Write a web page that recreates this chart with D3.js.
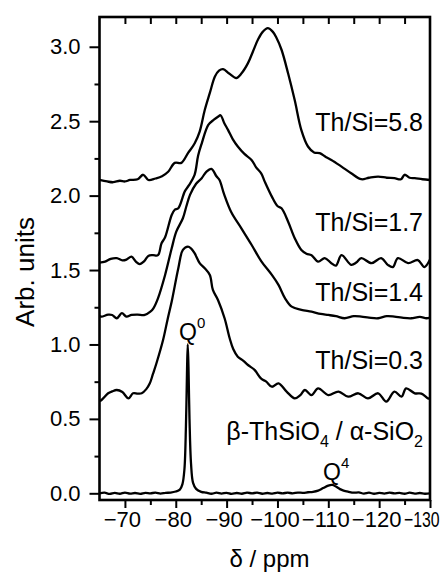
<!DOCTYPE html>
<html>
<head>
<meta charset="utf-8">
<script src="https://cdn.jsdelivr.net/npm/d3@7"></script>
<style>
  html, body { margin: 0; padding: 0; background: #fff; }
  svg { display: block; font-family: "Liberation Sans", Arial, Helvetica, sans-serif; }
</style>
</head>
<body>
<svg id="chart" width="441" height="575"></svg>
<script>
// ---- data (δ in ppm, intensity in arb. units) ----
const xTicks = [-70, -80, -90, -100, -110, -120, -130];
const yTicks = [0.0, 0.5, 1.0, 1.5, 2.0, 2.5, 3.0];

const seriesNames = ["Th/Si=5.8", "Th/Si=1.7", "Th/Si=1.4", "Th/Si=0.3", "β-ThSiO4 / α-SiO2"];

const s58 = [[-65,2.105],[-66.5,2.095],[-67.7,2.09],[-69,2.10],[-70,2.095],[-71,2.105],[-72.5,2.11],[-73.6,2.14],[-74.6,2.105],[-76,2.115],[-77.3,2.13],[-78.5,2.16],[-79.8,2.22],[-81.1,2.22],[-82.4,2.285],[-83.7,2.35],[-84.7,2.43],[-85.7,2.575],[-86.7,2.69],[-87.7,2.80],[-88.5,2.84],[-89.3,2.85],[-90.5,2.82],[-91.9,2.79],[-92.9,2.82],[-94.2,2.89],[-95.2,2.97],[-96.2,3.05],[-97.1,3.10],[-98.1,3.125],[-99.1,3.10],[-99.8,3.06],[-100.8,2.98],[-102.1,2.82],[-103.4,2.64],[-104.7,2.44],[-106.0,2.33],[-107.2,2.29],[-108.3,2.285],[-109.5,2.26],[-110.6,2.24],[-112.6,2.195],[-114.5,2.15],[-116.5,2.11],[-118,2.12],[-119.8,2.128],[-121.5,2.12],[-123.0,2.117],[-124.3,2.11],[-125.0,2.14],[-126,2.12],[-127,2.117],[-128.5,2.11],[-130,2.105]];

const s17 = [[-65,1.55],[-66.1,1.556],[-67.2,1.575],[-68.4,1.58],[-69.5,1.565],[-70.3,1.57],[-71.3,1.59],[-72.2,1.555],[-72.9,1.54],[-73.8,1.56],[-74.6,1.595],[-75.5,1.60],[-76.5,1.60],[-77.2,1.68],[-77.9,1.72],[-79.2,1.87],[-79.8,1.905],[-80.5,1.915],[-81.8,2.03],[-82.6,2.07],[-83.7,2.14],[-84.4,2.27],[-85.1,2.35],[-86.4,2.475],[-87.5,2.51],[-88.3,2.53],[-88.8,2.54],[-89.5,2.49],[-90.3,2.44],[-91.2,2.38],[-92.2,2.33],[-93.5,2.28],[-94.9,2.24],[-95.8,2.19],[-96.8,2.15],[-97.5,2.094],[-98.9,1.993],[-100.0,1.93],[-100.8,1.915],[-102.1,1.825],[-103.4,1.714],[-104.7,1.635],[-105.7,1.61],[-106.7,1.60],[-108.0,1.556],[-109.3,1.58],[-110.6,1.546],[-111.5,1.53],[-112.6,1.60],[-114.5,1.535],[-115.5,1.55],[-116.5,1.58],[-118.5,1.546],[-120.4,1.58],[-121.7,1.535],[-122.7,1.52],[-123.7,1.58],[-125.7,1.546],[-127.6,1.567],[-128.9,1.52],[-130,1.57]];

const s14 = [[-65,1.19],[-65.4,1.187],[-66.7,1.20],[-67.5,1.198],[-68.4,1.176],[-69.4,1.21],[-70.3,1.187],[-71.3,1.198],[-72.5,1.20],[-73.9,1.198],[-75.0,1.22],[-75.6,1.243],[-76.5,1.31],[-77.9,1.467],[-79.2,1.646],[-80.1,1.758],[-81.4,1.848],[-82.1,1.93],[-82.8,2.005],[-84.0,2.08],[-85.1,2.117],[-86.0,2.16],[-87.0,2.18],[-88.0,2.13],[-88.6,2.105],[-89.5,2.01],[-90.9,1.89],[-92.9,1.78],[-94.9,1.67],[-96.8,1.56],[-98.9,1.467],[-100.2,1.40],[-101.5,1.31],[-102.8,1.254],[-104.7,1.232],[-106.7,1.22],[-108.5,1.205],[-110.0,1.198],[-111.5,1.19],[-113.2,1.176],[-115,1.19],[-116.5,1.187],[-118,1.18],[-119.8,1.176],[-121.5,1.19],[-123.0,1.187],[-124.5,1.18],[-126.3,1.176],[-128,1.185],[-129.3,1.176],[-130,1.18]];

const s03 = [[-65,0.62],[-65.4,0.627],[-66.7,0.672],[-67.5,0.685],[-68.4,0.694],[-69.5,0.68],[-70.7,0.638],[-71.6,0.672],[-72.5,0.67],[-73.3,0.672],[-74.2,0.70],[-74.9,0.739],[-75.5,0.80],[-76.2,0.874],[-77.5,1.03],[-78.4,1.17],[-79.2,1.288],[-80.5,1.512],[-81.4,1.635],[-82.4,1.657],[-83.0,1.645],[-83.7,1.613],[-84.7,1.546],[-85.7,1.512],[-86.7,1.467],[-87.3,1.366],[-88.3,1.299],[-89.6,1.176],[-90.6,1.042],[-91.3,0.97],[-92.2,0.918],[-93.3,0.89],[-94.2,0.862],[-95.5,0.829],[-96.8,0.77],[-97.8,0.75],[-98.9,0.716],[-100.2,0.739],[-101.8,0.683],[-103.4,0.638],[-104.5,0.66],[-105.4,0.694],[-106.7,0.66],[-108.0,0.705],[-110,0.66],[-112,0.683],[-113.9,0.649],[-115.9,0.672],[-117.8,0.638],[-119.8,0.672],[-121.4,0.616],[-123,0.683],[-124.4,0.649],[-125.3,0.705],[-127,0.672],[-128.3,0.67],[-129.6,0.638],[-130,0.635]];

const sRef = [[-65,0.0],[-66,0.004],[-67,-0.004],[-68,0.003],[-69,-0.003],[-70,0.005],[-71,-0.002],[-72,0.002],[-73,-0.004],[-74,0.003],[-75,0.0],[-76,0.004],[-77,-0.002],[-78,0.003],[-79,0.005],[-80,0.012],[-80.8,0.025],[-81.3,0.06],[-81.7,0.16],[-82.0,0.45],[-82.2,0.8],[-82.35,1.0],[-82.5,0.85],[-82.7,0.5],[-83.0,0.2],[-83.4,0.07],[-84,0.03],[-85,0.01],[-86,0.004],[-87,-0.003],[-88,0.004],[-89,-0.002],[-90,0.003],[-91,-0.004],[-92,0.002],[-93,-0.003],[-94,0.004],[-95,0.0],[-96,0.004],[-97,-0.003],[-98,0.002],[-99,-0.002],[-100,0.004],[-101,0.0],[-102,0.004],[-103,0.0],[-104,0.005],[-105,0.003],[-106,0.007],[-107,0.01],[-108,0.018],[-109,0.035],[-110,0.052],[-110.8,0.056],[-111.5,0.045],[-112.3,0.028],[-113,0.018],[-114,0.01],[-115,0.004],[-116,0.006],[-117,-0.002],[-118,0.004],[-119,-0.003],[-120,0.003],[-121,-0.002],[-122,0.004],[-123,0.0],[-124,0.003],[-125,-0.003],[-126,0.004],[-127,-0.002],[-128,0.002],[-129,-0.003],[-130,0.0]];

const allSeries = [s58, s17, s14, s03, sRef];

// ---- layout ----
const svg = d3.select("#chart");
const L = 99.5, R = 430, T = 17, B = 500;
const x = d3.scaleLinear().domain([-65, -130]).range([L, R]);
const y = d3.scaleLinear().domain([-0.045, 3.2]).range([B, T]);

const line = d3.line()
  .x(d => x(d[0]))
  .y(d => y(d[1]))
  .curve(d3.curveCatmullRom.alpha(0.5));

// curves
svg.append("g")
  .selectAll("path")
  .data(allSeries)
  .join("path")
  .attr("d", line)
  .attr("fill", "none")
  .attr("stroke", "#000")
  .attr("stroke-width", 2.3)
  .attr("stroke-linejoin", "round");

// axes
const fmtY = d3.format(".1f");
const yAxis = d3.axisLeft(y).tickValues(yTicks).tickFormat(fmtY).tickSize(10).tickPadding(9);
const yMinor = d3.axisLeft(y).tickValues(d3.range(0.25, 3.2, 0.5)).tickFormat("").tickSize(5);
const xAxis = d3.axisBottom(x).tickValues(xTicks).tickFormat(d => "\u2212" + Math.abs(d)).tickSize(8).tickPadding(3);
const xMinor = d3.axisBottom(x).tickValues(d3.range(-75, -126, -10)).tickFormat("").tickSize(5);
const xTop = d3.axisBottom(x).tickValues(d3.range(-70, -126, -5)).tickFormat("").tickSize(7);

function styleAxis(g, fs) {
  g.select(".domain").remove();
  g.selectAll(".tick line").attr("stroke", "#000").attr("stroke-width", 2);
  g.selectAll(".tick text").attr("fill", "#000").style("font-size", fs + "px")
    .style("font-family", '"Liberation Sans", Arial, sans-serif');
}

svg.append("g").attr("transform", `translate(${L},0)`).call(yAxis).call(g => styleAxis(g, 22));
svg.append("g").attr("transform", `translate(${L},0)`).call(yMinor).call(g => styleAxis(g, 22));
const gx = svg.append("g").attr("transform", `translate(0,${B})`).call(xAxis).call(g => styleAxis(g, 22));
svg.append("g").attr("transform", `translate(0,${B})`).call(xMinor).call(g => styleAxis(g, 22));
svg.append("g").attr("transform", `translate(0,${T})`).call(xTop).call(g => styleAxis(g, 22));
// labels sit slightly left of their ticks; the last one is narrowed so it stays inside the picture
gx.selectAll(".tick text").attr("x", -3);
gx.selectAll(".tick text").filter(d => d === -130)
  .attr("text-anchor", "start")
  .attr("x", 0)
  .attr("transform", `translate(${403.5 - x(-130)},0) scale(0.72,1)`);

// frame
svg.append("rect")
  .attr("x", L).attr("y", T).attr("width", R - L).attr("height", B - T)
  .attr("fill", "none").attr("stroke", "#000").attr("stroke-width", 2.6);

// series labels
const labelY = [130.7, 231, 301, 369];
const labels = svg.append("g").style("font-size", "25px").attr("fill", "#000");
seriesNames.slice(0, 4).forEach((n, i) => {
  labels.append("text").attr("x", 423).attr("y", labelY[i]).attr("text-anchor", "end").text(n);
});
const ref = labels.append("text").attr("x", 423).attr("y", 440).attr("text-anchor", "end");
ref.append("tspan").text("β-ThSiO");
ref.append("tspan").attr("dy", 7).style("font-size", "16px").text("4");
ref.append("tspan").attr("dy", -7).text(" / α-SiO");
ref.append("tspan").attr("dy", 7).style("font-size", "16px").text("2");

// Q labels
function qLabel(px, py, sup) {
  const t = svg.append("text").attr("x", px).attr("y", py).style("font-size", "23px");
  t.append("tspan").text("Q");
  t.append("tspan").attr("dy", -12).style("font-size", "15px").text(sup);
}
qLabel(179, 339.5, "0");
qLabel(323, 480, "4");

// axis titles
svg.append("text")
  .attr("transform", `translate(33.5,272) rotate(-90)`)
  .attr("text-anchor", "middle").style("font-size", "26px").text("Arb. units");
svg.append("text")
  .attr("x", 269.5).attr("y", 567).attr("text-anchor", "middle")
  .style("font-size", "24px").text("δ / ppm");
</script>
</body>
</html>
